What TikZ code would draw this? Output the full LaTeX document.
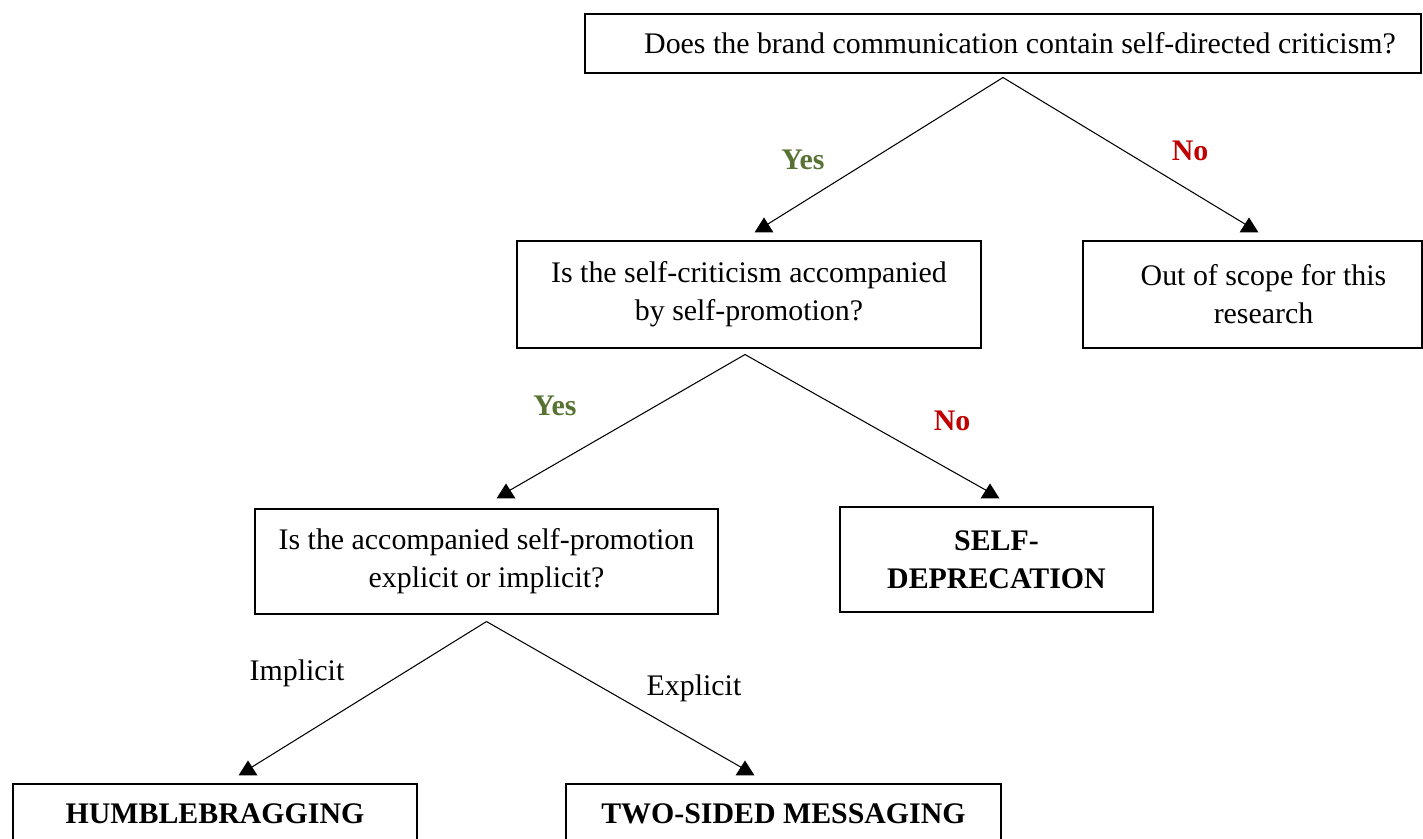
\documentclass[tikz,border=0pt]{standalone}
\usepackage{fontspec}
\setmainfont{Liberation Serif}
\definecolor{yesgreen}{RGB}{88,114,52}
\definecolor{nored}{RGB}{192,0,0}
\begin{document}
\begin{tikzpicture}
    \tikzstyle{box}=[draw, line width=0.6pt, align=center, inner sep=0pt, font=\fontsize{17}{21.6}\selectfont]
    \tikzstyle{conn}=[line width=0.6pt]
    \tikzstyle{uptip}=[fill=black, insert path={++(-0.19,0) -- ++(0.38,0) -- ++(-0.19,0.3) -- cycle}]
    \tikzstyle{lbl}=[font=\fontsize{17}{21.6}\selectfont]
    \tikzstyle{yeslbl}=[text=yesgreen, font=\fontsize{17}{21.6}\selectfont\bfseries]
    \tikzstyle{nolbl}=[text=nored, font=\fontsize{17}{21.6}\selectfont\bfseries]
    \useasboundingbox (0,0) rectangle (28.46,-16.78);

    \node[box, minimum width=16.72cm, minimum height=1.18cm] (q1) at (20.06,-0.87) {\hspace*{0.68cm}Does the brand communication contain self-directed criticism?};
    \node[box, minimum width=9.28cm, minimum height=2.14cm] (q2) at (14.98,-5.89) {Is the self-criticism accompanied\\by self-promotion?};
    \node[box, minimum width=6.78cm, minimum height=2.14cm] (oos) at (25.05,-5.89) {\hspace*{0.44cm}Out of scope for this\\\hspace*{0.44cm}research};
    \node[box, minimum width=9.26cm, minimum height=2.1cm] (q3) at (9.73,-11.23) {Is the accompanied self-promotion\\explicit or implicit?};
    \node[box, minimum width=6.26cm, minimum height=2.1cm, font=\fontsize{17}{21.6}\selectfont\bfseries] (sd) at (19.93,-11.19) {SELF-\\DEPRECATION};
    \node[box, minimum width=8.08cm, minimum height=1.2cm, font=\fontsize{17}{21.6}\selectfont\bfseries] (hb) at (4.3,-16.28) {HUMBLEBRAGGING};
    \node[box, minimum width=8.7cm, minimum height=1.2cm, font=\fontsize{17}{21.6}\selectfont\bfseries] (ts) at (15.67,-16.28) {TWO-SIDED MESSAGING};

    % ends of the connectors, just above the boxes
    \coordinate (e1) at ([xshift=0.30cm,yshift=0.16cm]q2.north);
    \coordinate (e2) at ([xshift=-0.07cm,yshift=0.16cm]oos.north);
    \coordinate (e3) at ([xshift=0.39cm,yshift=0.20cm]q3.north);
    \coordinate (e4) at ([xshift=-0.13cm,yshift=0.16cm]sd.north);
    \coordinate (e5) at ([xshift=0.66cm,yshift=0.16cm]hb.north);
    \coordinate (e6) at ([xshift=-0.77cm,yshift=0.16cm]ts.north);

    \draw[conn] ([yshift=-0.08cm]q1.south) -- ([yshift=0.12cm]e1);
    \draw[conn] ([yshift=-0.08cm]q1.south) -- ([yshift=0.12cm]e2);
    \draw[conn] ([xshift=-0.08cm,yshift=-0.12cm]q2.south) -- ([yshift=0.12cm]e3);
    \draw[conn] ([xshift=-0.08cm,yshift=-0.12cm]q2.south) -- ([yshift=0.12cm]e4);
    \draw[conn] ([yshift=-0.14cm]q3.south) -- ([yshift=0.12cm]e5);
    \draw[conn] ([yshift=-0.14cm]q3.south) -- ([yshift=0.12cm]e6);
    \path (e1) [uptip] (e2) [uptip] (e3) [uptip] (e4) [uptip] (e5) [uptip] (e6) [uptip];

    \node[yeslbl] (yes1) at (16.06,-3.2) {Yes};
    \node[nolbl] (no1) at (23.8,-3.02) {No};
    \node[yeslbl] (yes2) at (11.1,-8.12) {Yes};
    \node[nolbl] (no2) at (19.04,-8.42) {No};
    \node[lbl] (impl) at (5.94,-13.46) {Implicit};
    \node[lbl] (expl) at (13.88,-13.76) {Explicit};

\end{tikzpicture}
\end{document}
